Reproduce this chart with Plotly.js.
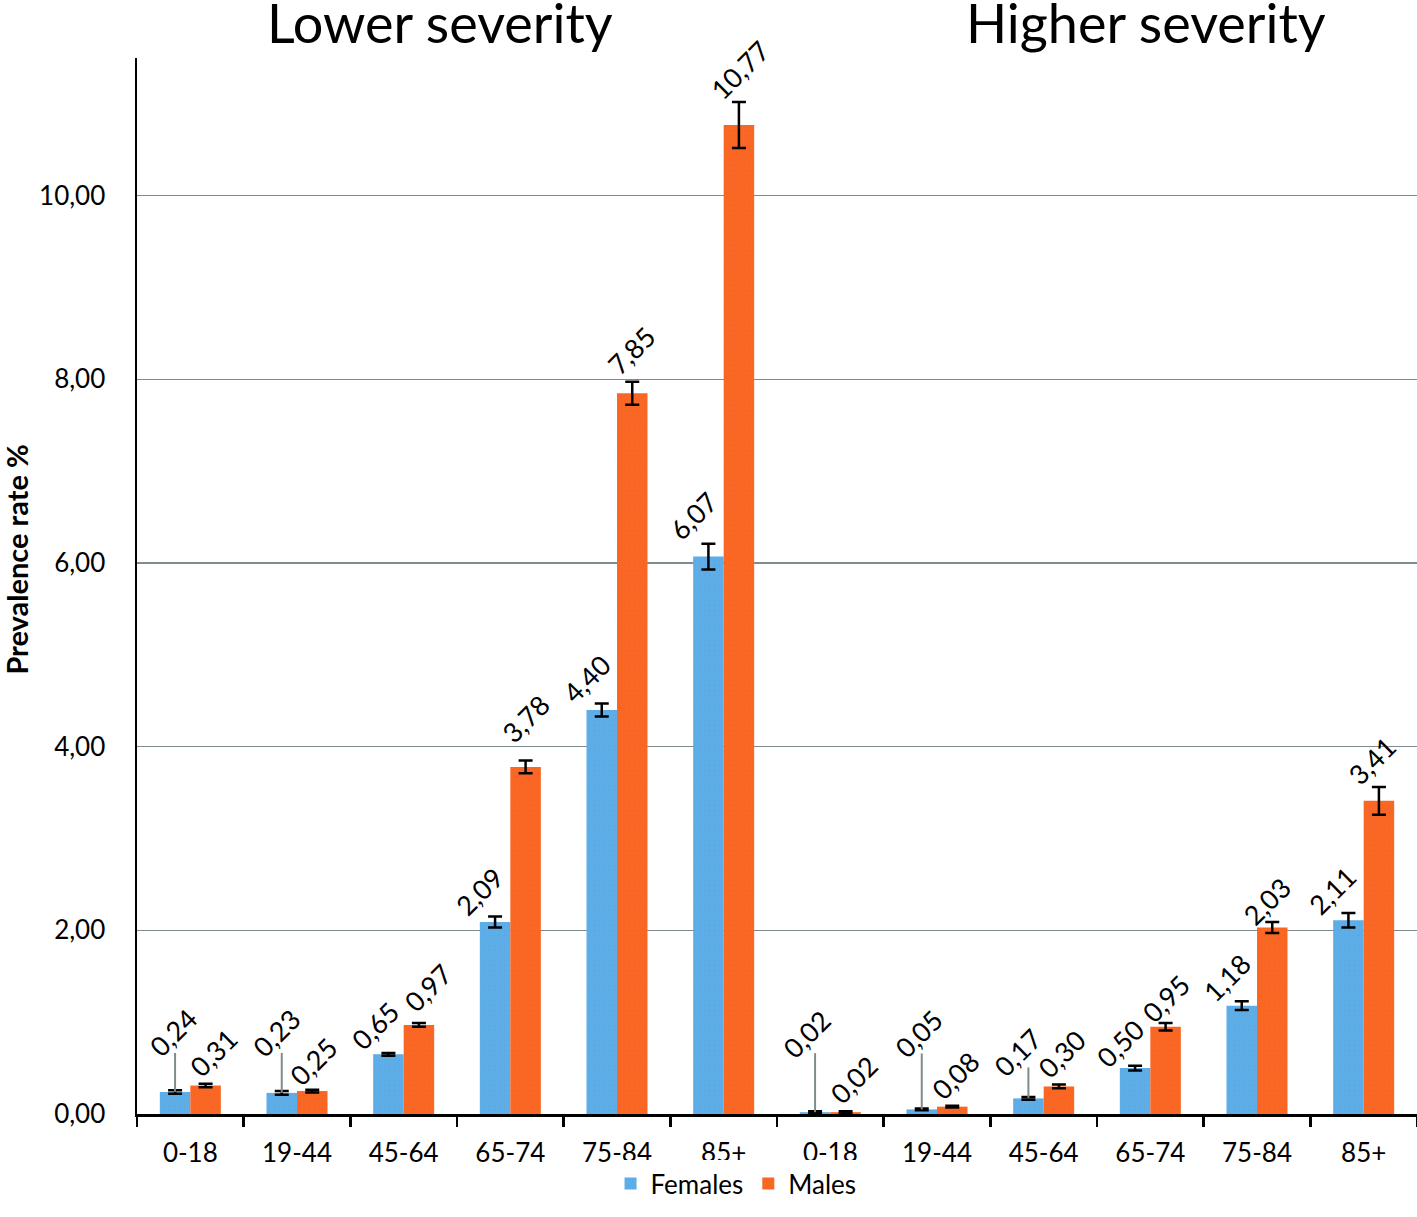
<!DOCTYPE html>
<html>
<head>
<meta charset="utf-8">
<script src="https://cdn.plot.ly/plotly-3.0.1.min.js"></script>
<style>html,body{margin:0;padding:0;background:#fff;}#chart{width:1417px;height:1217px;}</style>
</head>
<body>
<div id="chart"></div>
<script>
// ---- data ----
const ageGroups = ['0-18', '19-44', '45-64', '65-74', '75-84', '85+'];
const severityGroups = ['Lower severity', 'Higher severity'];
const seriesNames = ['Females', 'Males'];
const femalesLower = [0.24, 0.23, 0.65, 2.09, 4.40, 6.07];
const malesLower = [0.31, 0.25, 0.97, 3.78, 7.85, 10.77];
const femalesHigher = [0.02, 0.05, 0.17, 0.50, 1.18, 2.11];
const malesHigher = [0.02, 0.08, 0.30, 0.95, 2.03, 3.41];
const femalesLowerErr = [0.02, 0.02, 0.015, 0.06, 0.07, 0.14];
const malesLowerErr = [0.02, 0.015, 0.02, 0.07, 0.125, 0.25];
const femalesHigherErr = [0.01, 0.01, 0.015, 0.025, 0.047, 0.08];
const malesHigherErr = [0.01, 0.01, 0.02, 0.04, 0.06, 0.15];
const yTickValues = [0, 2, 4, 6, 8, 10];

// ---- label placement (styling, pixels) ----
const femaleLabelDx = [-2, -5, -13, -16, -15, -15, -9, -3, -11, -15, -15, -16];
const femaleLabelDy = [59, 60, 27, 25, 25, 28, 78, 76, 46, 22, 24, 22];
const maleLabelDx = [8, 1, 9, 0, -1, 1, 8, 3, 3, 0, -6, -7];
const maleLabelDy = [31, 28, 36, 42, 31, 33, 32, 30, 31, 25, 21, 27];
const femaleLeader = [39, 40, 0, 0, 0, 0, 59, 56, 31, 0, 0, 0];

// ---- build ----
const females = femalesLower.concat(femalesHigher);
const males = malesLower.concat(malesHigher);
const femalesErr = femalesLowerErr.concat(femalesHigherErr);
const malesErr = malesLowerErr.concat(malesHigherErr);
const tickText = ageGroups.concat(ageGroups);
const xs = tickText.map((_, i) => i);

const FONT = 'Lato, "Open Sans", sans-serif';
const blue = '#5DAEE8';
const orange = '#FC6623';
const bargap = 0.428;
const half = (1 - bargap) / 4;
const fmt = v => v.toFixed(2).replace('.', ',');

const errStyle = {type: 'data', visible: true, color: '#000', thickness: 2.5, width: 7};
const pat = {shape: '.', fillmode: 'overlay', fgcolor: 'rgba(110,110,110,0.35)', fgopacity: 0.35, size: 5, solidity: 0.12};

const traces = [
  {type: 'bar', name: seriesNames[0], x: xs, y: females,
   marker: {color: blue, pattern: Object.assign({}, pat)},
   error_y: Object.assign({array: femalesErr}, errStyle)},
  {type: 'bar', name: seriesNames[1], x: xs, y: males,
   marker: {color: orange, pattern: Object.assign({}, pat)},
   error_y: Object.assign({array: malesErr}, errStyle)}
];

const annotations = [];
const shapes = [];
xs.forEach(i => {
  const xf = i - half, xm = i + half;
  const lf = femaleLeader[i] > 0;
  annotations.push({
    x: xf, y: lf ? females[i] : females[i] + femalesErr[i], xref: 'x', yref: 'y',
    text: fmt(females[i]), showarrow: false, textangle: -45,
    xanchor: 'center', yanchor: 'middle',
    xshift: femaleLabelDx[i], yshift: femaleLabelDy[i],
    font: {family: FONT, size: 27, color: '#000'}
  });
  if (lf) {
    shapes.push({type: 'line', xref: 'x', yref: 'y', ysizemode: 'pixel', yanchor: females[i],
      x0: xf, x1: xf, y0: 0, y1: femaleLeader[i], line: {color: '#7F8C8D', width: 2}});
  }
  annotations.push({
    x: xm, y: males[i] + malesErr[i], xref: 'x', yref: 'y',
    text: fmt(males[i]), showarrow: false, textangle: -45,
    xanchor: 'center', yanchor: 'middle',
    xshift: maleLabelDx[i], yshift: maleLabelDy[i],
    font: {family: FONT, size: 27, color: '#000'}
  });
});

// panel titles
[[severityGroups[0], 0.2367], [severityGroups[1], 0.788]].forEach(([t, cx]) => {
  annotations.push({x: cx, y: 1, xref: 'paper', yref: 'paper', text: t, showarrow: false,
    xanchor: 'center', yanchor: 'middle', yshift: 36,
    font: {family: FONT, size: 54, color: '#000'}});
});
// y axis title
annotations.push({x: 0, y: 0.525, xref: 'paper', yref: 'paper', text: '<b>Prevalence rate %</b>',
  showarrow: false, textangle: -90, xanchor: 'center', yanchor: 'middle', xshift: -120,
  font: {family: FONT, size: 29, color: '#000'}});

const layout = {
  width: 1417, height: 1217,
  margin: {l: 137, r: 0, t: 58, b: 103},
  paper_bgcolor: '#fff', plot_bgcolor: '#fff',
  separators: ', ',
  barmode: 'group', bargap: bargap, bargroupgap: 0,
  font: {family: FONT, size: 26, color: '#000'},
  showlegend: true,
  legend: {orientation: 'h', x: 0.468, xanchor: 'center', y: -0.066, yanchor: 'middle',
    font: {family: FONT, size: 26, color: '#000'}, itemwidth: 30, tracegroupgap: 0},
  xaxis: {
    range: [-0.5, 11.5], tickmode: 'array', tickvals: xs, ticktext: tickText,
    ticks: '', showgrid: false, zeroline: false,
    showline: true, linecolor: '#000', linewidth: 2.5,
    ticklabelstandoff: 14,
    tickfont: {family: FONT, size: 26, color: '#000'},
    minor: {tickmode: 'array', tickvals: [-0.5, 0.5, 1.5, 2.5, 3.5, 4.5, 5.5, 6.5, 7.5, 8.5, 9.5, 10.5, 11.5],
      ticks: 'outside', ticklen: 10, tickwidth: 2.5, tickcolor: '#000', showgrid: false},
    fixedrange: true
  },
  yaxis: {
    range: [0, 11.5], tickmode: 'array', tickvals: yTickValues, ticktext: yTickValues.map(fmt),
    ticks: '', showgrid: true, gridcolor: '#7F8C8D', gridwidth: 1.5, zeroline: false,
    showline: true, linecolor: '#000', linewidth: 2.5,
    ticklabelstandoff: 24,
    tickfont: {family: FONT, size: 26, color: '#000'},
    fixedrange: true
  },
  annotations: annotations,
  shapes: shapes
};

Plotly.newPlot('chart', traces, layout, {displayModeBar: false, staticPlot: true});
</script>
</body>
</html>
